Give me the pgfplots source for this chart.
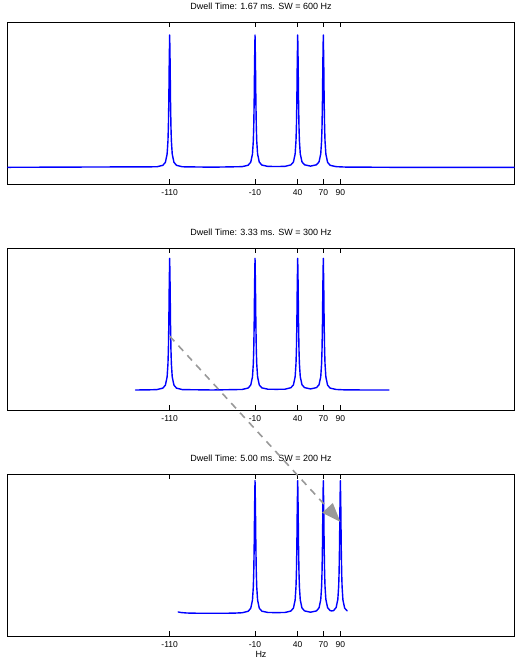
\documentclass[border=0pt]{standalone}
\usepackage{fontspec}
\setmainfont{Liberation Sans}
\usepackage{pgfplots}
\usepackage{pgfplotstable}
\pgfplotsset{compat=1.18}
\usetikzlibrary{arrows.meta}

\pgfplotstableread{
x y
-300 0.001
-125 0.005
-118 0.016
-115 0.039
-113 0.101
-112 0.201
-111.5 0.309
-111 0.501
-110.5 0.801
-110 1
-109.5 0.801
-109 0.501
-108.5 0.309
-108 0.201
-107 0.101
-105 0.039
-102 0.016
-95 0.005
-60 0.002
-25 0.006
-18 0.017
-15 0.04
-13 0.101
-12 0.201
-11.5 0.309
-11 0.501
-10.5 0.801
-10 1
-9.5 0.801
-9 0.501
-8.5 0.309
-8 0.201
-7 0.102
-5 0.04
-2 0.018
5 0.008
15 0.007
25 0.008
32 0.019
35 0.041
37 0.102
38 0.202
38.5 0.31
39 0.502
39.5 0.801
40 1
40.5 0.801
41 0.502
41.5 0.31
42 0.202
43 0.103
45 0.042
48 0.02
55 0.01
62 0.02
65 0.042
67 0.103
68 0.202
68.5 0.31
69 0.502
69.5 0.801
70 1
70.5 0.801
71 0.501
71.5 0.309
72 0.201
73 0.101
75 0.039
78 0.016
85 0.006
95 0.003
150 0.001
294 0.001
}\sweepA

\pgfplotstableread{
x y
-150 0.002
-135 0.003
-125 0.005
-118 0.016
-115 0.039
-113 0.101
-112 0.201
-111.5 0.309
-111 0.501
-110.5 0.801
-110 1
-109.5 0.801
-109 0.501
-108.5 0.309
-108 0.201
-107 0.101
-105 0.039
-102 0.016
-95 0.005
-60 0.002
-25 0.006
-18 0.017
-15 0.04
-13 0.101
-12 0.201
-11.5 0.309
-11 0.501
-10.5 0.801
-10 1
-9.5 0.801
-9 0.501
-8.5 0.309
-8 0.201
-7 0.102
-5 0.04
-2 0.018
5 0.008
15 0.007
25 0.008
32 0.019
35 0.041
37 0.102
38 0.202
38.5 0.31
39 0.502
39.5 0.801
40 1
40.5 0.801
41 0.502
41.5 0.31
42 0.202
43 0.103
45 0.042
48 0.02
55 0.01
62 0.02
65 0.042
67 0.103
68 0.202
68.5 0.31
69 0.502
69.5 0.801
70 1
70.5 0.801
71 0.501
71.5 0.309
72 0.201
73 0.101
75 0.039
78 0.016
85 0.006
95 0.003
120 0.002
147 0.002
}\sweepB

\pgfplotstableread{
x y
-100 0.012
-97 0.008
-90 0.004
-75 0.002
-50 0.002
-35 0.003
-25 0.006
-18 0.017
-15 0.04
-13 0.101
-12 0.201
-11.5 0.309
-11 0.501
-10.5 0.801
-10 1
-9.5 0.801
-9 0.501
-8.5 0.309
-8 0.201
-7 0.102
-5 0.04
-2 0.018
5 0.008
15 0.007
25 0.008
32 0.019
35 0.041
37 0.102
38 0.202
38.5 0.31
39 0.502
39.5 0.801
40 1
40.5 0.801
41 0.502
41.5 0.31
42 0.202
43 0.103
45 0.042
48 0.02
55 0.01
62 0.02
65 0.043
67 0.104
68 0.203
68.5 0.311
69 0.503
69.5 0.802
70 1
70.5 0.802
71 0.503
71.5 0.312
72 0.205
73 0.106
75 0.045
78 0.022
80 0.02
82 0.022
85 0.045
87 0.106
88 0.205
88.5 0.312
89 0.503
89.5 0.802
90 1
90.5 0.802
91 0.502
91.5 0.31
92 0.202
93 0.102
95 0.041
98 0.02
}\sweepC

\definecolor{specblue}{RGB}{0,0,255}

\pgfplotsset{
  spec/.style={
    scale only axis,
    width=507pt, height=162pt,
    anchor=north west,
    xmin=-300, xmax=294,
    xtick={-110,-10,40,70,90},
    xticklabels={-110,-10,40,70,90},
    xtick pos=both, xticklabel pos=bottom,
    tick align=inside,
    major tick length=5pt,
    ytick=\empty,
    axis line style={line width=0.9pt},
    every tick/.style={black, line width=0.7pt},
    tick label style={font=\fontsize{8.5}{9}\selectfont},
    xticklabel style={anchor=base, yshift=-11pt},
    title style={font=\fontsize{9}{10}\selectfont, at={(0.5,1)}, anchor=base, yshift=7pt},
  },
  peaks/.style={draw=specblue, line width=1.4pt, line join=round, line cap=round, no markers},
}

\begin{document}
\begin{tikzpicture}
\useasboundingbox (-7.5pt,22pt) rectangle (507.5pt,-637pt);

\begin{axis}[spec, at={(0pt,0pt)}, ymin=-0.125, ymax=1.098,
  title={Dwell Time: 1.67 ms. SW = 600 Hz}]
\addplot[peaks] table[x=x, y=y] {\sweepA};
\end{axis}

\begin{axis}[spec, at={(0pt,-226.3pt)}, ymin=-0.152, ymax=1.076,
  title={Dwell Time: 3.33 ms. SW = 300 Hz}]
\addplot[peaks] table[x=x, y=y] {\sweepB};
\coordinate (from) at (axis cs:-110,0.41);
\end{axis}

\begin{axis}[spec, at={(0pt,-452pt)}, ymin=-0.169, ymax=1.05,
  title={Dwell Time: 5.00 ms. SW = 200 Hz},
  xlabel={Hz},
  xlabel style={font=\fontsize{9}{10}\selectfont, at={(axis description cs:0.5,0)}, anchor=base, yshift=-21pt}]
\addplot[peaks] table[x=x, y=y] {\sweepC};
\coordinate (to) at (axis cs:90,0.69);
\end{axis}

\draw[gray!80, line width=1.6pt, dash pattern=on 7pt off 6pt,
  -{Triangle[length=19pt, width=14pt]}] (from) -- (to);
\end{tikzpicture}
\end{document}
